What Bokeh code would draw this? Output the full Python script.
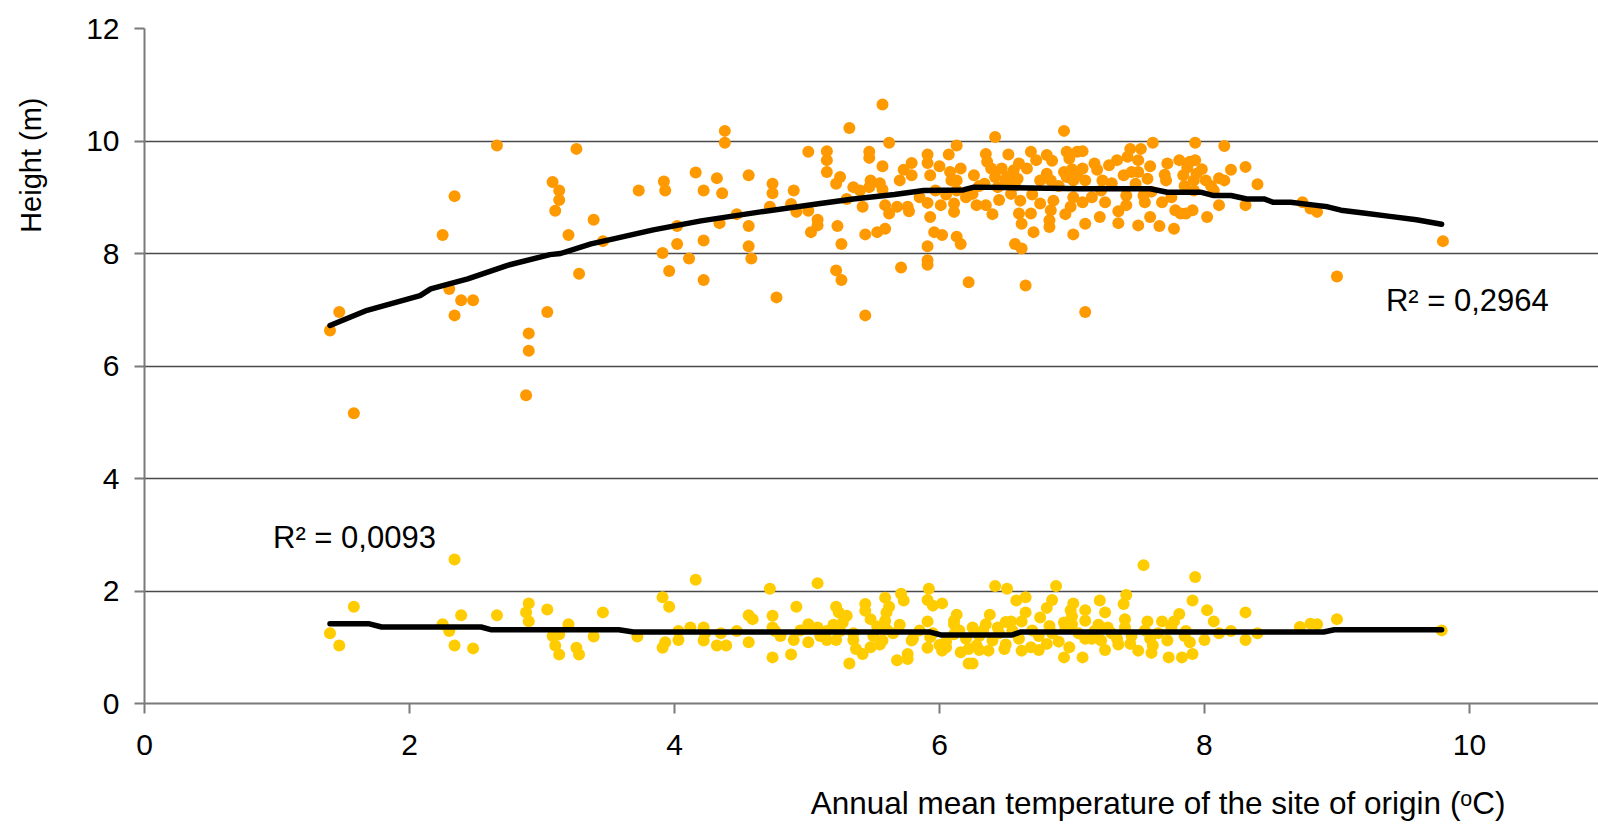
import math
from bokeh.plotting import figure
from bokeh.models import Range1d, FixedTicker, Label, ColumnDataSource, Title
from bokeh.embed import file_html
from bokeh.resources import INLINE

# ---------------- data ----------------
x_ticks = [0, 2, 4, 6, 8, 10]
y_ticks = [0, 2, 4, 6, 8, 10, 12]

height_x = [
    1.40, 1.47, 1.58, 2.25, 2.34, 2.30, 2.34, 2.39, 2.48, 2.66, 2.88, 2.90, 2.90, 3.04, 3.08, 3.13, 3.13, 3.10,
    3.26, 3.20, 3.28, 3.39, 3.46, 3.73, 3.92, 3.93, 3.91, 3.96, 4.02, 4.02, 4.11, 4.16, 4.22, 4.22, 4.22, 4.32,
    4.36, 4.34, 4.38, 4.38, 4.47, 4.56, 4.56, 4.56, 4.58, 4.72, 4.74, 4.74, 4.77, 4.88, 4.90, 4.92, 5.01, 5.01,
    5.03, 5.08, 5.08,
    5.15, 5.15, 5.15, 5.22, 5.25, 5.23, 5.26, 5.22, 5.26, 5.32, 5.30, 5.35, 5.40, 5.42, 5.44, 5.44, 5.47, 5.47,
    5.48, 5.47, 5.57, 5.62, 5.57, 5.57, 5.59, 5.62, 5.53, 5.59, 5.71, 5.68, 5.73, 5.79, 5.79, 5.76, 5.77, 5.91,
    5.91, 5.93, 5.91, 5.93, 5.96, 6.02, 5.91, 5.91, 5.91, 6.00, 5.97, 6.01, 6.07, 6.13, 6.08, 6.09, 6.16, 6.13,
    6.13, 6.11, 6.11, 6.13, 6.16, 6.22, 6.26, 6.25, 6.28, 6.34, 6.35, 6.42, 6.35, 6.36, 6.39, 6.42, 6.44, 6.47,
    6.50, 6.52, 6.54, 6.51, 6.56, 6.59, 6.57, 6.61, 6.60, 6.62, 6.57, 6.62, 6.69, 6.71, 6.65, 6.69, 6.66, 6.73,
    6.76, 6.76, 6.81, 6.81, 6.84, 6.83, 6.83, 6.84, 6.86, 6.94, 6.96, 6.98, 6.94, 6.96, 7.01, 6.99, 7.01, 7.04,
    7.04, 7.01,
    7.08, 7.08, 7.10, 7.08, 7.10, 7.17, 7.19, 7.22, 7.23, 7.25, 7.21, 7.28, 7.34, 7.35, 7.39, 7.42, 7.44, 7.41,
    7.41, 7.48, 7.50, 7.50, 7.52, 7.50, 7.54, 7.55, 7.57, 7.59, 7.59, 7.61, 7.66, 7.68, 7.71, 7.72, 7.77, 7.78,
    7.81, 7.82, 7.84, 7.86, 7.87, 7.89, 7.91, 7.92, 7.92, 7.93, 7.93, 7.94, 8.02, 8.01, 8.07, 8.11, 8.11, 8.15,
    8.15, 8.20, 8.31, 8.31, 8.40, 8.74, 8.80, 8.85, 9.00, 7.10, 9.80,
    6.20, 6.30, 6.45, 6.55, 6.70, 6.90, 7.00, 7.15, 7.30, 7.45, 7.60, 7.70, 7.85, 8.05, 6.05, 5.85, 5.70, 5.55,
    6.40, 6.95, 7.35, 7.75, 7.98, 6.60, 6.85,
]
height_y = [
    6.63, 6.96, 5.16, 8.33, 9.02, 7.37, 6.90, 7.17, 7.17, 9.92, 5.48, 6.58, 6.27, 6.96, 9.27, 9.12, 8.95, 8.76,
    9.86, 8.33, 7.64, 8.60, 8.22, 9.12, 9.28, 9.12, 8.01, 7.69, 8.49, 8.17, 7.91, 9.44, 9.12, 8.23, 7.53, 9.34,
    9.07, 8.54, 10.18, 9.97, 8.70, 9.39, 8.49, 8.13, 7.91, 8.83, 9.24, 9.07, 7.22, 8.88, 9.12, 8.74, 9.81, 8.76,
    8.38, 8.60, 8.50,
    9.82, 9.66, 9.45, 9.24, 9.36, 8.49, 8.17, 7.70, 7.53, 10.23, 8.97, 9.18, 9.12, 8.83, 8.34, 6.90, 9.81, 9.70,
    9.30, 9.18, 10.65, 9.97, 9.55, 9.14, 8.86, 8.71, 8.38, 8.44, 7.75, 8.83, 9.49, 9.61, 9.39, 8.83, 8.75, 9.76,
    9.61, 9.39, 8.90, 8.65, 8.38, 8.33, 8.13, 7.88, 7.80, 9.55, 9.12, 8.86, 9.76, 9.92, 9.45, 9.30, 9.51, 9.30,
    9.12, 8.89, 8.74, 8.30, 8.17, 7.49, 9.39, 9.06, 8.86, 9.24, 8.86, 10.07, 9.77, 9.63, 9.51, 9.36, 9.18, 9.51,
    9.30, 9.76, 9.06, 9.36, 9.48, 9.33, 9.21, 8.94, 8.71, 8.53, 8.17, 8.09, 8.71, 8.38, 7.43, 9.81, 9.51, 9.66,
    9.30, 8.89, 9.75, 9.42, 9.30, 8.59, 8.47, 8.77, 8.94, 10.18, 9.81, 9.69, 9.45, 9.36, 9.30, 8.83, 9.00, 9.81,
    9.39, 8.34,
    9.82, 9.51, 9.30, 8.91, 8.53, 9.60, 9.49, 9.12, 9.30, 8.91, 8.65, 9.57, 9.66, 8.54, 9.39, 9.72, 9.86, 9.03,
    8.86, 9.24, 9.66, 9.45, 9.86, 8.50, 9.03, 8.91, 9.33, 9.55, 8.65, 9.97, 8.49, 8.91, 9.30, 9.60, 8.44, 8.77,
    9.66, 8.71, 9.39, 8.71, 9.53, 9.63, 8.77, 9.30, 9.12, 9.97, 9.66, 9.42, 8.65, 9.30, 9.12, 8.86, 9.34, 9.91,
    9.30, 9.49, 9.54, 8.86, 9.23, 8.91, 8.80, 8.74, 7.59, 6.96, 8.22,
    9.00, 9.20, 8.95, 9.40, 9.05, 9.20, 9.50, 9.00, 9.25, 9.45, 9.10, 9.40, 9.20, 9.20, 9.05, 9.00, 9.30, 9.25,
    8.70, 8.70, 8.75, 9.00, 9.50, 9.60, 9.65,
]

diam_x = [
    1.40, 1.47, 1.58, 2.34, 2.25, 2.30, 2.39, 2.34, 2.48, 2.66, 2.90, 2.88, 2.90, 3.04, 3.08, 3.13, 3.10, 3.13,
    3.20, 3.26, 3.28, 3.39, 3.46, 3.72,
    3.91, 3.96, 3.91, 3.93, 4.03, 4.03, 4.16, 4.12, 4.22, 4.22, 4.23, 4.32, 4.39, 4.35, 4.47, 4.56, 4.59, 4.56,
    4.72, 4.74, 4.74, 4.76, 4.74, 4.88, 4.90, 4.92, 5.01, 5.01, 5.08, 5.08, 5.15, 5.15, 5.22, 5.24, 5.30, 5.27,
    5.25, 5.22, 5.35, 5.37, 5.32, 5.42, 5.48, 5.44, 5.44, 5.48, 5.53, 5.59, 5.62, 5.60, 5.59, 5.60, 5.57, 5.68,
    5.71, 5.73, 5.76, 5.76, 5.79, 5.91, 5.91, 5.95, 5.92, 5.91, 5.93, 6.00, 6.02, 6.02, 6.11, 6.13, 6.11, 6.11,
    6.16, 6.22, 6.22,
    6.25, 6.25, 6.28, 6.35, 6.38, 6.37, 6.42, 6.51, 6.44, 6.49, 6.54, 6.58, 6.65, 6.65, 6.62, 6.62, 6.69, 6.76,
    6.81, 6.85, 6.88, 6.81, 6.83, 6.94, 6.94, 6.99, 7.01, 7.00, 6.98, 7.08, 7.10, 7.10, 7.10, 7.17, 7.21, 7.25,
    7.27, 7.22, 7.34, 7.39, 7.41, 7.40, 7.44, 7.50, 7.54, 7.57, 7.59, 7.61, 7.68, 7.72, 7.73, 7.77, 7.81, 7.83,
    7.86, 7.89, 7.91, 7.91, 7.93, 8.00, 8.02, 8.07, 8.11, 8.20, 8.31, 8.31, 8.40, 8.72, 8.80, 8.85, 9.00, 9.79,
    6.30, 6.33, 6.40, 6.45, 6.50, 6.55, 6.60, 6.70, 6.75, 6.85, 6.90, 6.95, 7.05, 7.15, 7.20, 7.30, 7.35, 7.45,
    7.55, 7.65, 7.75, 7.85, 5.50, 5.55, 5.65, 5.70, 5.80, 5.85, 6.05, 6.15, 5.35, 5.20, 5.10, 4.95, 4.80, 6.05,
    6.30, 6.75, 7.25, 7.60, 6.50, 7.00, 7.40, 6.20, 5.95,
]
diam_y = [
    1.25, 1.03, 1.72, 2.56, 1.41, 1.29, 1.57, 1.03, 0.98, 1.57, 1.78, 1.62, 1.46, 1.67, 1.20, 1.23, 1.03, 0.87,
    1.41, 0.99, 0.87, 1.19, 1.62, 1.19,
    1.89, 1.72, 0.99, 1.09, 1.29, 1.13, 2.20, 1.35, 1.35, 1.12, 1.25, 1.03, 1.03, 1.25, 1.29, 1.57, 1.50, 1.09,
    2.04, 1.56, 1.35, 1.29, 0.82, 0.87, 1.13, 1.72, 1.41, 1.09, 2.14, 1.35, 1.29, 1.13, 1.72, 1.62, 1.56, 1.44,
    1.29, 1.13, 1.13, 0.97, 0.71, 0.88, 1.00, 1.77, 1.65, 1.50, 1.37, 1.88, 1.72, 1.62, 1.47, 1.32, 1.12, 0.77,
    1.95, 1.83, 0.88, 0.79, 1.12, 0.99, 1.84, 1.74, 2.04, 1.46, 1.18, 1.04, 0.94, 1.78, 1.41, 1.58, 1.47, 1.23,
    0.91, 0.97, 0.71, 1.35, 0.71,
    1.03, 1.41, 1.58, 0.94, 2.09, 2.04, 1.35, 0.97, 1.46, 1.83, 1.89, 1.62, 1.46, 0.94, 1.00, 1.53, 1.70, 1.84,
    2.09, 1.06, 1.38, 1.44, 0.82, 1.66, 1.78, 1.41, 1.00, 0.82, 1.66, 1.47, 1.15, 1.29, 1.83, 1.62, 1.35, 1.12,
    1.15, 1.77, 1.93, 1.35, 1.06, 0.94, 2.46, 1.46, 1.15, 1.03, 1.46, 1.12, 0.82, 1.46, 1.59, 0.82, 1.29, 1.09,
    0.88, 1.83, 2.25, 1.13, 1.66, 1.46, 1.25, 1.29, 1.62, 1.13, 1.25, 1.36, 1.42, 1.41, 1.50, 1.30,
    1.20, 1.30, 1.12, 1.25, 1.05, 1.30, 1.15, 1.30, 1.20, 1.25, 1.10, 1.35, 1.25, 1.15, 1.40, 1.25, 1.05, 1.20,
    1.30, 1.25, 1.35, 1.20, 1.20, 1.05, 1.25, 1.40, 1.15, 1.30, 1.10, 1.30, 1.25, 1.40, 1.20, 1.30, 1.20, 1.00,
    0.95, 0.95, 0.95, 0.90, 1.45, 1.55, 1.50, 1.15, 1.25,
]

trend_height_x = [1.40, 1.68, 2.08, 2.16, 2.44, 2.74, 3.06, 3.14, 3.37, 3.54, 3.84, 4.20, 4.65, 5.10, 5.35,
                  5.66, 5.88, 6.18, 6.26, 7.06, 7.59, 7.72, 7.97, 8.07, 8.20, 8.32, 8.45, 8.52, 8.65, 8.83,
                  8.93, 9.03, 9.20, 9.40, 9.60, 9.79]
trend_height_y = [6.72, 6.99, 7.25, 7.37, 7.55, 7.79, 7.98, 8.00, 8.17, 8.26, 8.42, 8.58, 8.74, 8.89, 8.97,
                  9.05, 9.12, 9.13, 9.18, 9.15, 9.15, 9.09, 9.09, 9.03, 9.03, 8.97, 8.97, 8.91, 8.91, 8.86,
                  8.83, 8.77, 8.72, 8.66, 8.60, 8.52]
trend_diam_x = [1.40, 1.69, 1.79, 2.54, 2.62, 3.58, 3.69, 5.93, 6.01, 6.55, 6.61, 8.90, 8.98, 9.79]
trend_diam_y = [1.42, 1.42, 1.36, 1.36, 1.31, 1.31, 1.27, 1.27, 1.22, 1.22, 1.27, 1.27, 1.31, 1.31]

r2_height = "R² = 0,2964"
r2_diam = "R² = 0,0093"
x_title = "Annual mean temperature of the site of origin (ᵒC)"
y_title = "Height (m)"

# ---------------- figure ----------------
FONT = "Liberation Sans"
p = figure(width=1598, height=826, x_range=Range1d(0, 10.974), y_range=Range1d(0, 12),
           output_backend="svg", toolbar_location=None,
           min_border_left=144, min_border_right=0, min_border_top=28, min_border_bottom=123)
p.outline_line_color = None
p.background_fill_color = "white"
p.border_fill_color = "white"

p.xgrid.visible = False
p.ygrid.ticker = FixedTicker(ticks=y_ticks[1:])
p.ygrid.grid_line_color = "#4a4a4a"
p.ygrid.grid_line_width = 1.3

p.xaxis.ticker = FixedTicker(ticks=x_ticks)
p.yaxis.ticker = FixedTicker(ticks=y_ticks)
for ax in (p.xaxis, p.yaxis):
    ax.axis_line_color = "#7a7a7a"
    ax.axis_line_width = 2
    ax.major_tick_line_color = "#7a7a7a"
    ax.major_tick_line_width = 2
    ax.major_tick_out = 10
    ax.major_tick_in = 0
    ax.minor_tick_out = 0
    ax.minor_tick_in = 0
    ax.major_label_text_font = FONT
    ax.major_label_text_font_size = "30px"
    ax.major_label_text_color = "black"
p.xaxis.major_label_standoff = 21
p.yaxis.major_label_standoff = 15

src_h = ColumnDataSource(dict(x=height_x, y=height_y))
src_d = ColumnDataSource(dict(x=diam_x, y=diam_y))
p.scatter("x", "y", source=src_h, size=12, fill_color="#FF9900", line_color=None)
p.scatter("x", "y", source=src_d, size=12, fill_color="#FFCC00", line_color=None)
p.line(trend_height_x, trend_height_y, line_color="black", line_width=5.5, line_join="round", line_cap="round")
p.line(trend_diam_x, trend_diam_y, line_color="black", line_width=5.5, line_join="round", line_cap="round")

p.add_layout(Label(x=9.37, y=7.17, text=r2_height, text_font=FONT, text_font_size="31px",
                   text_baseline="middle", text_align="left", text_color="black"))
p.add_layout(Label(x=0.97, y=2.95, text=r2_diam, text_font=FONT, text_font_size="31px",
                   text_baseline="middle", text_align="left", text_color="black"))

# spacer panels so that the axis titles sit where the reference has them
p.add_layout(Title(text=" ", text_font_size="1px", standoff=24), "below")
p.add_layout(Title(text=x_title, align="right", offset=93, vertical_align="top", text_font=FONT,
                   text_font_size="31.5px", text_font_style="normal", text_color="black", standoff=0), "below")
p.add_layout(Title(text=" ", text_font_size="1px", standoff=34), "left")
p.add_layout(Title(text=y_title, align="right", offset=69, vertical_align="bottom", text_font=FONT,
                   text_font_size="29px", text_font_style="normal", text_color="black", standoff=0), "left")

open("out.html", "w").write(file_html(p, INLINE))
